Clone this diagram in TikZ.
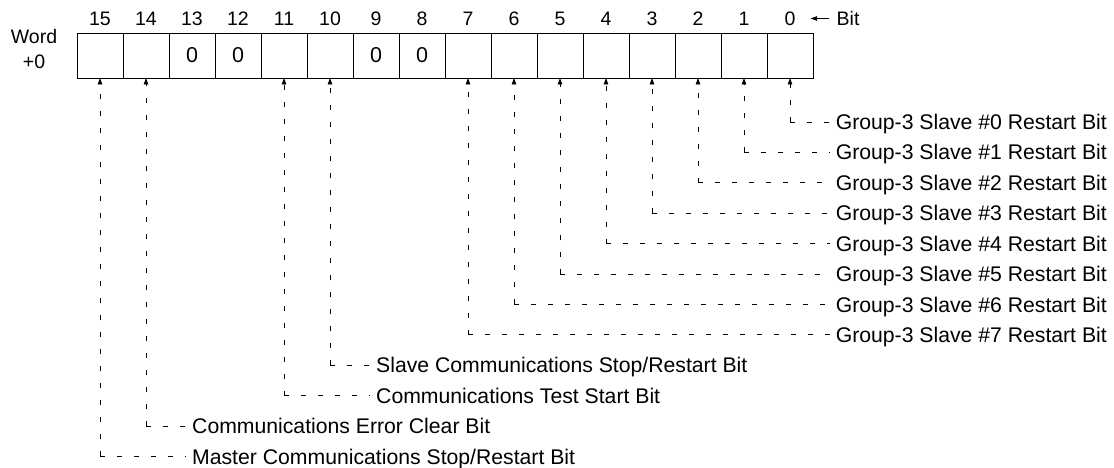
\documentclass[tikz,border=0pt]{standalone}
\usepackage{fontspec}
\setmainfont{Liberation Sans}
\usetikzlibrary{arrows.meta}
\begin{document}
\begin{tikzpicture}[x=1pt,y=-1pt,
  cell/.style={draw,minimum width=46pt,minimum height=45pt,inner sep=0pt,outer sep=0pt,line width=0.9pt,font=\fontsize{21.5}{24}\selectfont},
  num/.style={font=\fontsize{19.5}{25}\selectfont,inner sep=0pt},
  lab/.style={font=\fontsize{21.2}{24}\selectfont,inner xsep=6pt,inner ysep=0pt,text height=15.2pt,text depth=0pt},
  dashline/.style={line width=0.85pt,dash pattern=on 5pt off 12pt},
  tip/.style={-{Triangle[width=4.5pt,length=6.5pt]}}]
\useasboundingbox (0,0) rectangle (1114,468);
% bit cells
\foreach \b/\v in {15/,14/,13/0,12/0,11/,10/,9/0,8/0,7/,6/,5/,4/,3/,2/,1/,0/} {
  \node[cell] (c\b) at ({100+(15-\b)*46},55.5) {\v};
  \node[num] (n\b) at ({100+(15-\b)*46},18.5) {\b};
}
\node[num,align=center] (word) at (34,49.5) {Word\\+0};
\node[num,anchor=west] (bit) at (836.5,18.5) {Bit};
\draw[line width=0.9pt,tip] ([xshift=-8pt]bit.west) -- ([xshift=15pt]n0.east);
% group-3 labels
\foreach \k in {0,...,7} {
  \node[lab,anchor=east] (g\k) at (1113,{122+30.4*\k}) {Group-3 Slave \#\k{} Restart Bit};
  \coordinate (k\k) at (g\k.west -| c\k.south);
  \draw[dashline] (k\k) -- (g\k.west);
  \draw[dashline,tip] (k\k) -- (c\k.south);
}
% other labels
\node[lab,anchor=west] (s10) at (370,365.2) {Slave Communications Stop/Restart Bit};
\node[lab,anchor=west] (s11) at (370,395.6) {Communications Test Start Bit};
\node[lab,anchor=west] (s14) at (186,426) {Communications Error Clear Bit};
\node[lab,anchor=west] (s15) at (186,456.4) {Master Communications Stop/Restart Bit};
\foreach \b in {10,11,14,15} {
  \coordinate (k\b) at (s\b.west -| c\b.south);
  \draw[dashline] (k\b) -- (s\b.west);
  \draw[dashline,tip] (k\b) -- (c\b.south);
}
\end{tikzpicture}
\end{document}
